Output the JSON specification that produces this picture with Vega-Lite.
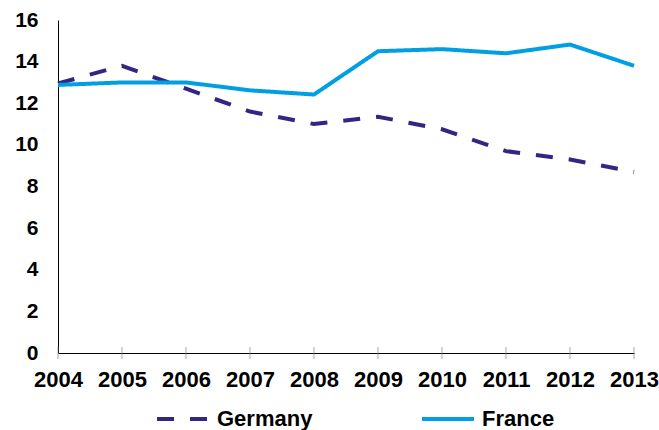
{
  "$schema": "https://vega.github.io/schema/vega-lite/v6.json",
  "width": 576,
  "height": 333,
  "autosize": {"type": "none"},
  "padding": {"left": 58, "top": 20, "right": 25, "bottom": 77},
  "background": "white",
  "config": {
    "view": {"stroke": null},
    "font": "Liberation Sans",
    "axis": {"grid": false, "labelFont": "Liberation Sans", "labelFontWeight": "bold", "labelColor": "#000000", "domainColor": "#000000", "domainWidth": 1, "title": null}
  },
  "data": {
    "values": [
      {"year": 2004, "series": "Germany", "value": 12.95},
      {"year": 2005, "series": "Germany", "value": 13.8},
      {"year": 2006, "series": "Germany", "value": 12.7},
      {"year": 2007, "series": "Germany", "value": 11.6},
      {"year": 2008, "series": "Germany", "value": 11.0},
      {"year": 2009, "series": "Germany", "value": 11.35},
      {"year": 2010, "series": "Germany", "value": 10.75},
      {"year": 2011, "series": "Germany", "value": 9.7},
      {"year": 2012, "series": "Germany", "value": 9.3},
      {"year": 2013, "series": "Germany", "value": 8.7},
      {"year": 2004, "series": "France", "value": 12.88},
      {"year": 2005, "series": "France", "value": 13.0},
      {"year": 2006, "series": "France", "value": 13.0},
      {"year": 2007, "series": "France", "value": 12.62},
      {"year": 2008, "series": "France", "value": 12.42},
      {"year": 2009, "series": "France", "value": 14.5},
      {"year": 2010, "series": "France", "value": 14.6},
      {"year": 2011, "series": "France", "value": 14.4},
      {"year": 2012, "series": "France", "value": 14.82},
      {"year": 2013, "series": "France", "value": 13.8}
    ]
  },
  "layer": [
    {
      "transform": [{"filter": "datum.series === 'France'"}],
      "mark": {"type": "tick", "orient": "vertical", "size": 12, "thickness": 1, "color": "#808080"},
      "encoding": {
        "x": {"field": "year", "type": "quantitative"},
        "y": {"datum": 0}
      }
    },
    {
      "mark": {"type": "line", "strokeWidth": 4, "strokeCap": "butt", "strokeJoin": "miter"},
      "encoding": {
        "x": {
          "field": "year", "type": "quantitative",
          "scale": {"domain": [2004, 2013], "nice": false, "zero": false},
          "axis": {"values": [2004,2005,2006,2007,2008,2009,2010,2011,2012,2013], "format": "d", "ticks": false, "labelPadding": 16, "labelFlush": false, "labelFontSize": 22}
        },
        "y": {
          "field": "value", "type": "quantitative",
          "scale": {"domain": [0, 16], "nice": false},
          "axis": {"values": [0,2,4,6,8,10,12,14,16], "ticks": false, "labelPadding": 20, "labelFontSize": 21}
        },
        "color": {
          "field": "series", "type": "nominal",
          "scale": {"domain": ["Germany", "France"], "range": ["#312783", "#009FE3"]},
          "legend": {
            "title": null, "orient": "none", "direction": "horizontal",
            "legendX": 97, "legendY": 371,
            "labelFont": "Liberation Sans", "labelFontWeight": "bold", "labelFontSize": 22, "labelColor": "#000000",
            "symbolType": "stroke", "symbolSize": 2704, "symbolStrokeWidth": 4,
            "columnPadding": 101, "labelOffset": 6, "padding": 0
          }
        },
        "strokeDash": {
          "field": "series", "type": "nominal",
          "scale": {"domain": ["Germany", "France"], "range": [[17, 16], [1, 0]]},
          "legend": null
        }
      }
    }
  ]
}
